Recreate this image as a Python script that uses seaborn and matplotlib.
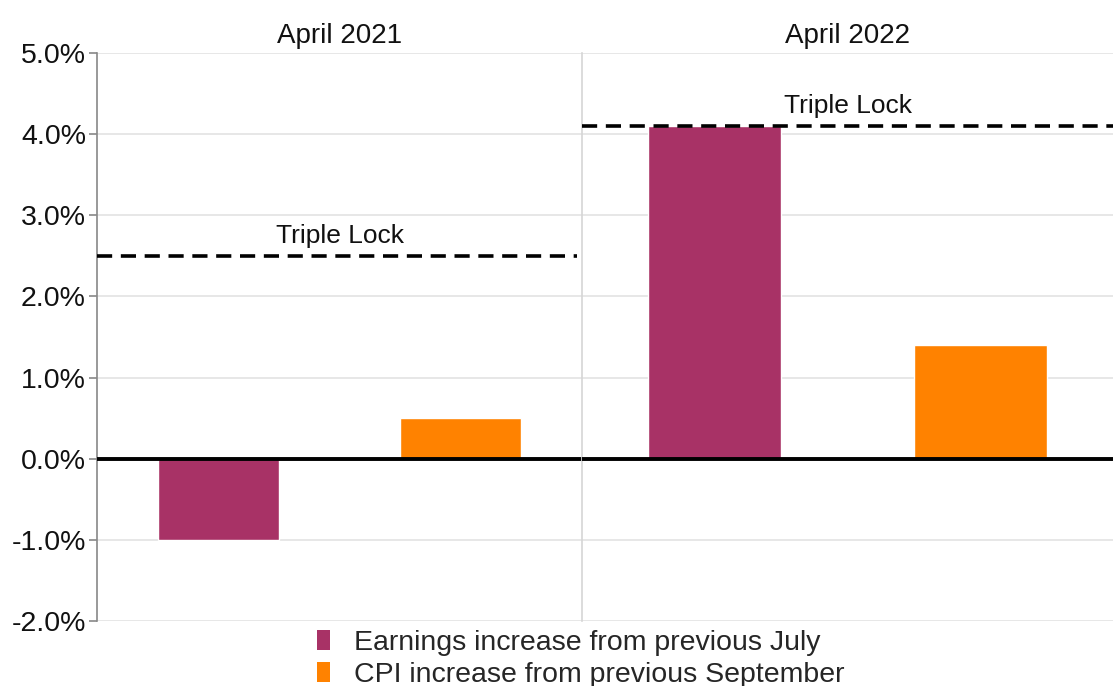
import matplotlib
matplotlib.use("Agg")
import matplotlib.pyplot as plt
from matplotlib.patches import Patch
import pandas as pd
import seaborn as sns

# Data
periods = ["April 2021", "April 2022"]
series = ["Earnings increase from previous July", "CPI increase from previous September"]
earnings = [-1.0, 4.1]
cpi = [0.5, 1.4]
triple_lock = [2.5, 4.1]
y_ticks = [-2.0, -1.0, 0.0, 1.0, 2.0, 3.0, 4.0, 5.0]

colors = {series[0]: "#A83266", series[1]: "#FF8200"}

df = pd.DataFrame({
    "period": [p for p in periods for _ in series],
    "series": [s for _ in periods for s in series],
    "value": [v for pair in zip(earnings, cpi) for v in pair],
})

sns.set_theme(style="white")
plt.rcParams["font.family"] = ["Liberation Sans", "DejaVu Sans"]

fig = plt.figure(figsize=(11.13, 6.86), dpi=100)
gs = fig.add_gridspec(1, 2, width_ratios=[486, 532], wspace=0,
                      left=0.0872, right=1.0, top=0.9227, bottom=0.0948)
axes = [fig.add_subplot(gs[0, 0])]
axes.append(fig.add_subplot(gs[0, 1], sharey=axes[0]))

for i, (ax, period) in enumerate(zip(axes, periods)):
    sub = df[df["period"] == period]
    sns.barplot(data=sub, x="series", y="value", hue="series", order=series,
                hue_order=series, palette=colors, width=0.5, legend=False,
                saturation=1, ax=ax, zorder=3)
    ax.set_xlim(-0.5, 1.5)
    ax.set_ylim(-2.0, 5.0)
    ax.set_yticks(y_ticks)
    ax.grid(axis="y", color="#e3e3e3", linewidth=1.2, zorder=0)
    ax.axhline(0, color="black", linewidth=2.8, zorder=4)
    ax.axhline(triple_lock[i], xmin=0.0, xmax=0.99 if i == 0 else 1.0,
               color="black", linewidth=2.6, linestyle=(0, (4.2, 2.4)), zorder=5)
    ax.text(0.5, triple_lock[i] + 0.1, "Triple Lock", ha="center", va="bottom",
            fontsize=19, transform=ax.get_yaxis_transform(), color="#111111")
    ax.set_title(period, fontsize=20, pad=7, color="#111111")
    ax.set_xlabel("")
    ax.set_ylabel("")
    ax.set_xticks([])
    for side in ["top", "right", "bottom"]:
        ax.spines[side].set_visible(False)
    if i == 0:
        ax.spines["left"].set_color("#888888")
        ax.spines["left"].set_linewidth(1.2)
        ax.tick_params(axis="y", left=True, length=6, width=1.2, color="#888888",
                       labelsize=20.5, labelcolor="#111111", pad=2)
        ax.set_yticklabels([f"{t:.1f}%" for t in y_ticks])
    else:
        ax.spines["left"].set_color("#d6d6d6")
        ax.spines["left"].set_linewidth(1.2)
        ax.tick_params(axis="y", left=False, labelleft=False)

handles = [Patch(facecolor=colors[s], edgecolor="none", label=s) for s in series]
fig.legend(handles=handles, loc="upper left", bbox_to_anchor=(0.2848, 0.082),
           frameon=False, fontsize=20.5, handlelength=0.45, handleheight=0.7,
           handletextpad=0.85, labelspacing=0.22, borderaxespad=0, borderpad=0)

fig.savefig("out.png", dpi=100)
